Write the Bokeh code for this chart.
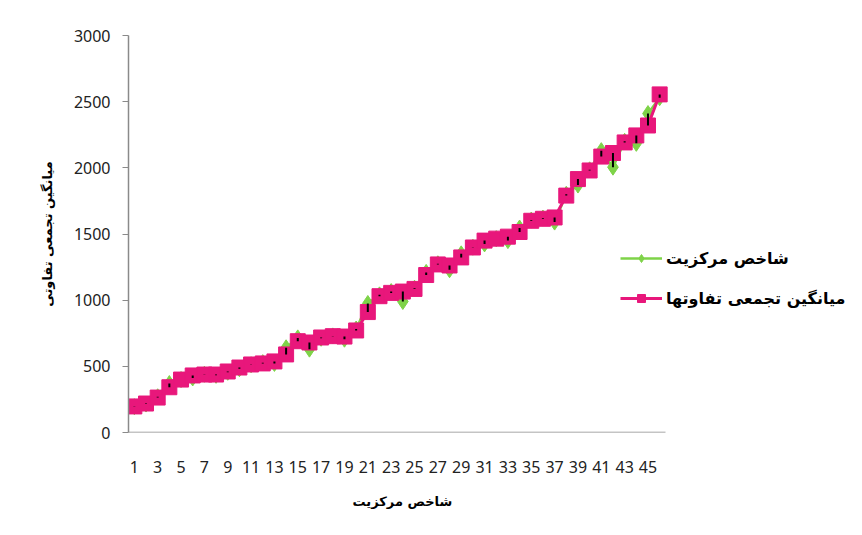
from bokeh.plotting import figure
from bokeh.models import Range1d, FixedTicker, Legend, LegendItem, Title
from bokeh.embed import file_html
from bokeh.resources import INLINE

# ---- data ----
categories = list(range(1, 47))
centrality = [195, 215, 270, 370, 400, 412, 440, 432, 455, 482, 512, 528, 522, 640, 715, 630,
              712, 730, 705, 782, 975, 1040, 1065, 990, 1090, 1210, 1275, 1230, 1350, 1400, 1425,
              1465, 1450, 1545, 1605, 1620, 1590, 1800, 1870, 1985, 2130, 2005, 2200, 2185, 2410, 2530]
cum_mean_diff = [197, 219, 264, 342, 400, 431, 438, 438, 461, 491, 514, 522, 537, 590, 690, 680,
                 718, 728, 725, 771, 910, 1030, 1055, 1065, 1085, 1190, 1270, 1262, 1323, 1398, 1450,
                 1465, 1480, 1515, 1600, 1615, 1625, 1790, 1915, 1980, 2085, 2112, 2192, 2245, 2320, 2555]
x_ticks = list(range(1, 46, 2))
x_tick_labels = [str(t) for t in x_ticks]
y_ticks = [0, 500, 1000, 1500, 2000, 2500, 3000]

series1_name = "شاخص مرکزیت"
series2_name = "میانگین تجمعی تفاوتها"
x_title = "شاخص مرکزیت"
y_title = "میانگین تجمعی تفاوتی"

GREEN = "#7ED348"
PINK = "#E8177B"
AXIS = "#8a8a8a"
AR_FONT = "DejaVu Sans"
NUM_FONT = "Noto Sans"

W, H = 854, 527
LEFT, TOP, BOTTOM = 128, 35, 95
PLOT_W = 537  # width of the category axis in px
x_start, x_end = 0.5, len(categories) + 0.5
px_per_unit = PLOT_W / (x_end - x_start)
x_view_end = x_start + (W - LEFT) / px_per_unit  # frame extends to the right edge (room for legend)

p = figure(width=W, height=H, output_backend="svg", toolbar_location=None,
           x_range=Range1d(x_start, x_view_end), y_range=Range1d(0, 3000),
           min_border_left=LEFT, min_border_right=0, min_border_top=TOP, min_border_bottom=BOTTOM)
p.xgrid.visible = False
p.ygrid.visible = False
p.outline_line_color = None
p.background_fill_color = "white"

# x axis
p.xaxis.ticker = FixedTicker(ticks=x_ticks)
p.xaxis.major_label_overrides = {t: l for t, l in zip(x_ticks, x_tick_labels)}
p.xaxis.major_tick_line_color = None
p.xaxis.minor_tick_line_color = None
p.xaxis.axis_line_color = None
p.xaxis.major_label_standoff = 22
p.xaxis.major_label_text_font = NUM_FONT
p.xaxis.major_label_text_font_size = "16px"
p.xaxis.major_label_text_color = "#222222"
# visible category-axis line, only over the categories
p.segment(x0=[x_start], y0=[0], x1=[x_end], y1=[0], line_color=AXIS, line_width=1.5)

# x axis title, centred under the category axis
xt = Title(text=x_title, align="left", offset=224, standoff=32, text_font=AR_FONT,
           text_font_style="bold", text_font_size="13px", text_color="black")
p.add_layout(xt, "below")

# y axis
p.yaxis.ticker = FixedTicker(ticks=y_ticks)
p.yaxis.major_tick_in = 0
p.yaxis.major_tick_out = 6
p.yaxis.major_tick_line_color = AXIS
p.yaxis.minor_tick_line_color = None
p.yaxis.axis_line_color = AXIS
p.yaxis.axis_line_width = 1.5
p.yaxis.major_label_standoff = 12
p.yaxis.major_label_text_font = NUM_FONT
p.yaxis.major_label_text_font_size = "16px"
p.yaxis.major_label_text_color = "#222222"
p.yaxis.axis_label = y_title
p.yaxis.axis_label_text_font = AR_FONT
p.yaxis.axis_label_text_font_style = "bold"
p.yaxis.axis_label_text_font_size = "13px"
p.yaxis.axis_label_text_color = "black"
p.yaxis.axis_label_standoff = 16

# series
g_line = p.line(categories, centrality, line_color=GREEN, line_width=2.5)
g_pts = p.scatter(categories, centrality, marker="diamond", size=16, fill_color=GREEN, line_color=GREEN)
r_line = p.line(categories, cum_mean_diff, line_color=PINK, line_width=3)
r_pts = p.scatter(categories, cum_mean_diff, marker="square", size=15, fill_color=PINK, line_color=PINK)
# high-low lines
p.segment(x0=categories, y0=centrality, x1=categories, y1=cum_mean_diff, line_color="black", line_width=2)

legend = Legend(items=[LegendItem(label=series1_name, renderers=[g_line, g_pts]),
                       LegendItem(label=series2_name, renderers=[r_line, r_pts])],
                location=(492, 124), orientation="vertical")
legend.label_text_font = AR_FONT
legend.label_text_font_style = "bold"
legend.label_text_font_size = "16px"
legend.label_text_color = "black"
legend.glyph_width = 42
legend.glyph_height = 20
legend.spacing = 20
legend.label_standoff = 4
legend.padding = 5
legend.border_line_color = None
legend.background_fill_alpha = 0
p.add_layout(legend)

open("out.html", "w").write(file_html(p, INLINE))
